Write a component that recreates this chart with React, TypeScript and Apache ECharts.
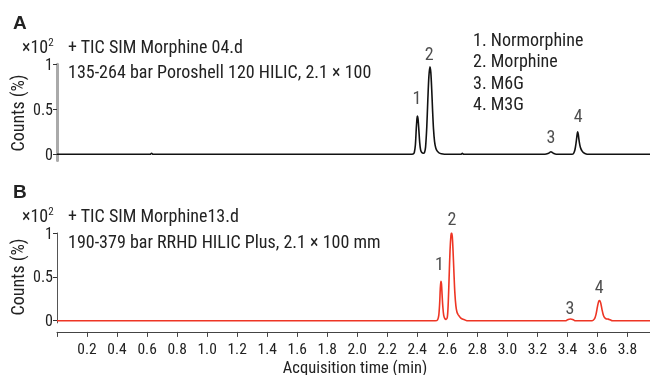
import React, { useEffect, useRef } from "react";
import * as echarts from "echarts";

const FONT = "'Liberation Sans Narrow', 'Roboto Condensed', 'DejaVu Sans Condensed', 'Arial Narrow', sans-serif";

// Trace A (black): acquisition time (min) and counts (x10^2 %)
const traceATime = [
  0, 0.62, 0.63, 0.64, 2.35, 2.372, 2.38, 2.387, 2.393, 2.398, 2.401, 2.405, 2.41, 2.416, 2.422, 2.43, 2.44,
  2.448, 2.455, 2.463, 2.47, 2.477, 2.484, 2.49, 2.496, 2.502, 2.508, 2.515, 2.523, 2.533, 2.545, 2.56, 2.58,
  2.69, 2.7, 2.71, 3.25, 3.27, 3.283, 3.29, 3.298, 3.31, 3.325,
  3.43, 3.441, 3.45, 3.457, 3.463, 3.468, 3.472, 3.477, 3.483, 3.49, 3.498, 3.507, 3.52, 3.54, 3.95,
];
const traceACounts = [
  0, 0, 0.012, 0, 0, 0.003, 0.02, 0.1, 0.28, 0.4, 0.425, 0.39, 0.28, 0.13, 0.05, 0.02, 0.012,
  0.02, 0.08, 0.3, 0.6, 0.86, 0.973, 0.91, 0.72, 0.48, 0.28, 0.14, 0.07, 0.035, 0.015, 0.005, 0,
  0, 0.01, 0, 0, 0.008, 0.022, 0.028, 0.022, 0.008, 0,
  0, 0.01, 0.05, 0.12, 0.2, 0.25, 0.225, 0.16, 0.1, 0.06, 0.035, 0.018, 0.006, 0, 0,
];

// Trace B (red)
const traceBTime = [
  0, 2.52, 2.535, 2.543, 2.549, 2.553, 2.557, 2.561, 2.565, 2.57, 2.576, 2.583, 2.592,
  2.6, 2.606, 2.612, 2.618, 2.624, 2.628, 2.633, 2.638, 2.644, 2.65, 2.657, 2.664, 2.672, 2.68, 2.69, 2.7, 2.715, 2.73,
  3.39, 3.405, 3.42, 3.435, 3.45,
  3.565, 3.58, 3.59, 3.6, 3.608, 3.615, 3.622, 3.63, 3.64, 3.65, 3.66, 3.672, 3.685, 3.7, 3.95,
];
const traceBCounts = [
  0, 0, 0.01, 0.06, 0.2, 0.36, 0.45, 0.42, 0.3, 0.16, 0.06, 0.025, 0.015,
  0.04, 0.2, 0.5, 0.8, 0.97, 1.0, 0.96, 0.8, 0.55, 0.32, 0.17, 0.1, 0.07, 0.05, 0.03, 0.02, 0.01, 0,
  0, 0.015, 0.02, 0.015, 0,
  0, 0.02, 0.07, 0.16, 0.22, 0.23, 0.2, 0.13, 0.06, 0.03, 0.02, 0.018, 0.01, 0, 0,
];

// Peak numbers and where their labels sit (time, counts)
const peakNames = ["1", "2", "3", "4"];
const peakLabelTimeA = [2.397, 2.479, 3.29, 3.472];
const peakLabelCountsA = [0.633, 1.122, 0.203, 0.426];
const peakLabelTimeB = [2.548, 2.63, 3.417, 3.612];
const peakLabelCountsB = [0.65, 1.168, 0.153, 0.387];

const yTicks = [0, 0.5, 1];
const legendLines = ["1. Normorphine", "2. Morphine", "3. M6G", "4. M3G"];
const titleA = ["+ TIC SIM Morphine 04.d", "135-264 bar Poroshell 120 HILIC, 2.1 × 100"];
const titleB = ["+ TIC SIM Morphine13.d", "190-379 bar RRHD HILIC Plus, 2.1 × 100 mm"];

const zip = (t: number[], v: number[]) => t.map((x, i) => [x, v[i]]);

export default function App() {
  const ref = useRef<HTMLDivElement>(null);
  useEffect(() => {
    if (!ref.current) return;
    const chart = echarts.init(ref.current, undefined, { renderer: "svg" });
    const txt = (text: string, x: number, y: number, extra: any = {}) => ({
      type: "text",
      x,
      y,
      style: {
        text,
        fontFamily: FONT,
        fontSize: 18,
        lineHeight: 16,
        fill: "#222",
        verticalAlign: "middle",
        align: "left",
        ...extra,
      },
    });
    const yAxisBase = (gridIndex: number, min: number, lineStyle: any) => ({
      type: "value",
      gridIndex,
      min,
      max: 1,
      axisLine: { show: true, lineStyle },
      axisTick: { show: true, customValues: yTicks, length: 4, lineStyle: { color: "#333", width: 1 } },
      axisLabel: {
        customValues: yTicks,
        formatter: (v: number) => (v === 0.5 ? "0.5" : String(v)),
        fontFamily: FONT,
        fontSize: 16,
        lineHeight: 14,
        color: "#222",
        margin: 4,
      },
      splitLine: { show: false },
    });
    const labelSeries = (xi: number, times: number[], counts: number[]) => ({
      type: "scatter",
      xAxisIndex: xi,
      yAxisIndex: xi,
      symbolSize: 1,
      itemStyle: { color: "rgba(0,0,0,0)" },
      clip: false,
      silent: true,
      label: {
        show: true,
        position: "inside",
        formatter: "{b}",
        fontFamily: FONT,
        fontSize: 18,
        lineHeight: 16,
        color: "#222",
      },
      data: times.map((t, i) => ({ name: peakNames[i], value: [t, counts[i]] })),
    });
    const powerText = (y: number) => ({
      type: "text",
      x: 22,
      y,
      style: {
        text: "{a|×10}{s|2}",
        verticalAlign: "middle",
        rich: {
          a: { fontFamily: FONT, fontSize: 18, lineHeight: 16, fill: "#222" },
          s: { fontFamily: FONT, fontSize: 11, fill: "#222", verticalAlign: "top", padding: [0, 0, 8, 0] },
        },
      },
    });
    chart.setOption({
      animation: false,
      grid: [
        { left: 57, right: 0, top: 64.3, height: 96.3 },
        { left: 57, right: 0, top: 233, height: 89.9 },
      ],
      xAxis: [
        { type: "value", gridIndex: 0, min: 0, max: 3.95, show: false },
        {
          type: "value",
          gridIndex: 1,
          min: 0,
          max: 3.95,
          interval: 0.2,
          offset: 9,
          axisLine: { show: true, onZero: false, lineStyle: { color: "#444", width: 1 } },
          axisTick: { show: true, length: 5, lineStyle: { color: "#444" } },
          axisLabel: {
            formatter: (v: number) => (v === 0 ? "" : v.toFixed(1)),
            fontFamily: FONT,
            fontSize: 15.5,
            lineHeight: 13,
            color: "#222",
            margin: 10.5,
            showMaxLabel: false,
          },
          splitLine: { show: false },
        },
      ],
      yAxis: [
        yAxisBase(0, -0.07, { color: "#aaa", width: 3 }),
        yAxisBase(1, -0.025, { color: "#555", width: 1 }),
      ],
      series: [
        {
          type: "line",
          xAxisIndex: 0,
          yAxisIndex: 0,
          data: zip(traceATime, traceACounts),
          showSymbol: false,
          symbol: "none",
          smooth: 0.3,
          lineStyle: { color: "#111", width: 1.6 },
        },
        {
          type: "line",
          xAxisIndex: 1,
          yAxisIndex: 1,
          data: zip(traceBTime, traceBCounts),
          showSymbol: false,
          symbol: "none",
          smooth: 0.3,
          lineStyle: { color: "#ee3524", width: 1.6 },
        },
        labelSeries(0, peakLabelTimeA, peakLabelCountsA),
        labelSeries(1, peakLabelTimeB, peakLabelCountsB),
      ],
      graphic: [
        txt("A", 13, 22, { fontWeight: "bold", fontSize: 19, fontFamily: "'Liberation Sans', Arial, sans-serif" }),
        txt("B", 13, 191, { fontWeight: "bold", fontSize: 19, fontFamily: "'Liberation Sans', Arial, sans-serif" }),
        powerText(46),
        powerText(215),
        txt(titleA[0], 68, 46),
        txt(titleA[1], 68, 71),
        txt(titleB[0], 68, 215),
        txt(titleB[1], 68, 241),
        ...legendLines.map((l, i) => txt(l, 473, 39 + i * 21.5)),
        { ...txt("Counts (%)", 17, 113, { align: "center" }), rotation: Math.PI / 2 },
        { ...txt("Counts (%)", 17, 277, { align: "center" }), rotation: Math.PI / 2 },
        txt("Acquisition time (min)", 355, 367, { align: "center", fontSize: 16.5, lineHeight: 14 }),
      ],
    });
    return () => chart.dispose();
  }, []);
  return <div ref={ref} style={{ position: "fixed", left: 0, top: 0, width: 650, height: 375 }} />;
}
